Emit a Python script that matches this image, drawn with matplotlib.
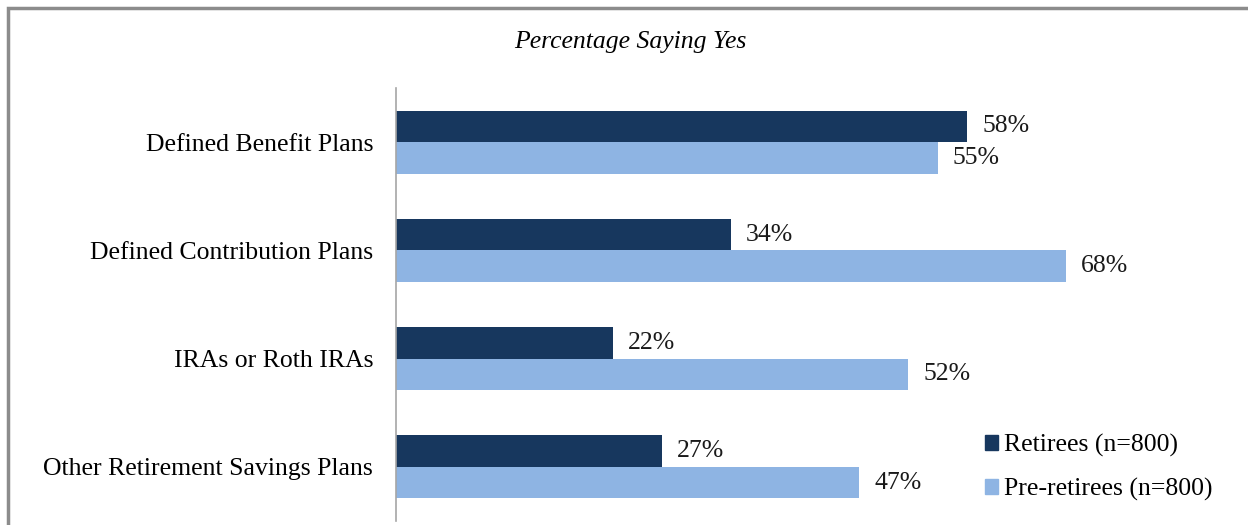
import matplotlib
matplotlib.use("Agg")
import matplotlib.pyplot as plt
from matplotlib.patches import Rectangle, Patch
import numpy as np

plt.rcParams['font.family'] = ['Liberation Serif', 'DejaVu Serif']

categories = ["Defined Benefit Plans", "Defined Contribution Plans",
              "IRAs or Roth IRAs", "Other Retirement Savings Plans"]
retirees = [58, 34, 22, 27]
pre_retirees = [55, 68, 52, 47]
series_names = ["Retirees (n=800)", "Pre-retirees (n=800)"]
title = "Percentage Saying Yes"

c_dark = "#17375E"
c_light = "#8EB4E3"

W, H = 1248, 525
fig = plt.figure(figsize=(W/100, H/100), dpi=100)
fs = 18.5

ax = fig.add_axes([396/W, 1-521/H, 837/W, 433/H])
y = np.arange(len(categories))
h = 0.29
b1 = ax.barh(y - h/2, retirees, height=h, color=c_dark, label=series_names[0])
b2 = ax.barh(y + h/2, pre_retirees, height=h, color=c_light, label=series_names[1])
ax.set_xlim(0, 85)
ax.set_ylim(len(categories)-0.5, -0.5)
ax.set_yticks(y)
ax.set_yticklabels(categories, fontsize=fs)
ax.tick_params(axis='y', length=0, pad=16.5)
ax.set_xticks([])
for s in ['top', 'right', 'bottom']:
    ax.spines[s].set_visible(False)
ax.spines['left'].set_color('#A6A6A6')
ax.spines['left'].set_linewidth(1.2)

for bars, vals in ((b1, retirees), (b2, pre_retirees)):
    for bar, v in zip(bars, vals):
        ax.annotate(f"{v}%", (bar.get_width(), bar.get_y() + bar.get_height()/2),
                    xytext=(11, 0), textcoords='offset points',
                    ha='left', va='center', fontsize=fs, color='#1a1a1a')

fig.text(630/W, 1-42/H, title, ha='center', va='center', fontsize=fs, style='italic')

handles = [Patch(color=c_dark), Patch(color=c_light)]
leg = fig.legend(handles, series_names, loc='upper left',
                 bbox_to_anchor=(985/W, 1-434/H), bbox_transform=fig.transFigure,
                 frameon=False, fontsize=fs, handlelength=0.52, handleheight=0.52,
                 handletextpad=0.22, labelspacing=0.81, borderpad=0, borderaxespad=0)

fig.add_artist(Rectangle((8/W, -0.05), 1.05, 1-8/H+0.05, transform=fig.transFigure,
                         fill=False, edgecolor='#8C8C8C', linewidth=2.5))

fig.savefig("out.png", dpi=100)
